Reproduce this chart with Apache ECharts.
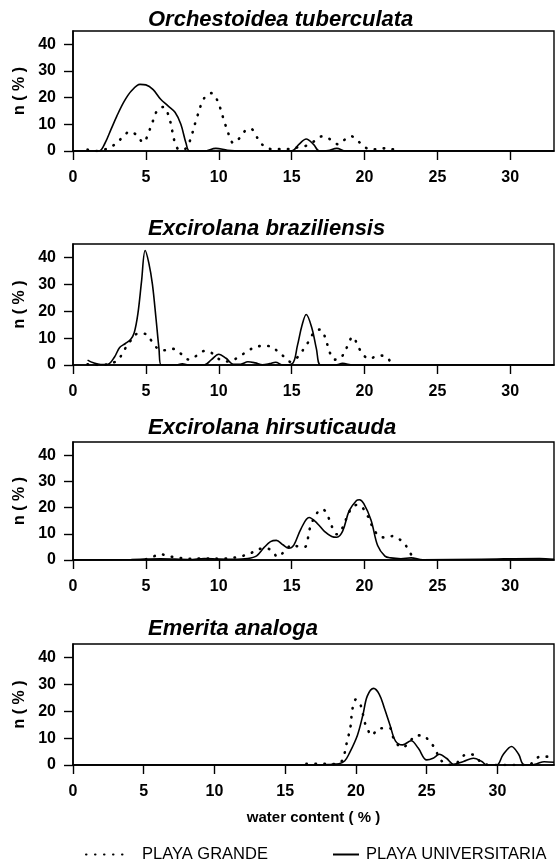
<!DOCTYPE html>
<html><head><meta charset="utf-8">
<script src="https://cdn.jsdelivr.net/npm/echarts@6.0.0/dist/echarts.min.js"></script>
<style>html,body{margin:0;padding:0;background:#fff}#c{width:559px;height:860px}</style>
</head><body><div id="c"></div>
<script>
// ---- data ----
const titles = ['Orchestoidea tuberculata', 'Excirolana braziliensis', 'Excirolana hirsuticauda', 'Emerita analoga'];
const seriesNames = ['PLAYA GRANDE', 'PLAYA UNIVERSITARIA'];
const xTicks = [0, 5, 10, 15, 20, 25, 30];
const yTicks = [0, 10, 20, 30, 40];
const xMax = [33, 33, 33, 34];
const yMax = 45;

// Orchestoidea tuberculata
const orchGrandeX = [1.0, 1.5, 2.0, 2.5, 3.0, 3.5, 3.9, 4.4, 4.8, 5.3, 5.8, 6.2, 6.6, 7.0, 7.3, 7.7, 8.0, 8.5, 9.0, 9.5, 9.9, 10.3, 10.7, 11.0, 11.4, 11.9, 12.2, 12.7, 13.1, 13.5, 14.0, 14.5, 15.0, 15.5, 16.0, 16.5, 17.1, 17.6, 18.2, 18.7, 19.1, 19.6, 20.0, 20.5, 21.2, 21.8, 22.3];
const orchGrandeY = [0.5, 0, 0.3, 1.3, 3, 5.8, 7.3, 5.8, 3.2, 8.5, 15.5, 16.5, 12.5, 3, 0.5, 0.8, 3.5, 12.5, 19.8, 21.7, 19, 12.5, 6, 3, 4.7, 8, 8.3, 4.5, 1.8, 0.8, 0.7, 0.7, 0.8, 1.5, 2, 3.5, 5.5, 4.5, 2.5, 4.5, 5.5, 3.5, 1.5, 0.5, 1, 0.8, 0];
const orchUnivX = [0, 1, 1.8, 2.2, 2.6, 3.0, 3.5, 4.0, 4.6, 5.0, 5.5, 6.0, 6.5, 7.0, 7.4, 7.75, 8.0, 9.0, 9.8, 10.6, 11.5, 15.0, 15.5, 16.0, 16.5, 16.9, 17.5, 18.1, 18.7, 20, 25, 33];
const orchUnivY = [0, 0, 0, 3, 8, 13, 18.5, 22.5, 25, 24.8, 23, 19.5, 17, 14.5, 10, 3, 0, 0, 1, 0.3, 0, 0, 2.5, 4.5, 2.5, 0, 0.2, 1, 0, 0, 0, 0];

// Excirolana braziliensis
const brazGrandeX = [1.0, 2.0, 2.7, 3.1, 3.45, 3.95, 4.5, 5.0, 5.45, 5.9, 6.4, 6.9, 7.4, 7.95, 8.4, 9.0, 9.45, 9.9, 10.5, 10.9, 11.5, 12.0, 12.5, 13.1, 13.6, 14.0, 14.5, 14.9, 15.5, 15.85, 16.2, 16.55, 16.95, 17.3, 17.6, 17.95, 18.35, 18.7, 19.2, 19.6, 20.0, 20.35, 20.7, 21.2, 21.6, 21.75];
const brazGrandeY = [0.3, 0, 0.8, 1.8, 5, 9, 11.8, 11.5, 8.5, 5.8, 5.5, 6, 4.2, 2, 3.2, 5.2, 4.7, 2.6, 1.3, 1.6, 3.5, 5.2, 6.7, 7.1, 6.9, 5.3, 3, 1.2, 3.4, 6.2, 9, 12.2, 13.2, 10.3, 4.9, 2, 2.5, 5.6, 10.5, 6.4, 3.3, 2.3, 3, 3.5, 2.6, 1.2];
const brazUnivX = [1.0, 1.4, 1.9, 2.4, 2.85, 3.2, 3.6, 3.95, 4.2, 4.45, 4.7, 4.95, 5.2, 5.45, 5.7, 5.9, 6.05, 7.0, 7.5, 8.0, 9.0, 9.5, 10.0, 10.5, 11.0, 11.5, 12.0, 12.5, 13.0, 13.5, 13.9, 14.4, 15.05, 15.4, 15.7, 16.0, 16.4, 16.7, 17.0, 18.0, 18.5, 19.2, 22, 33];
const brazUnivY = [1.8, 0.8, 0.2, 0.3, 3, 6.5, 8, 9.5, 12, 19, 31, 42.6, 38, 30, 17, 6, 0, 0, 0.4, 0, 0, 2, 4, 2.5, 0.3, 0.3, 1.2, 0.8, 0.1, 0.5, 1, 0, 0.5, 7.3, 14.5, 18.8, 13.5, 6, 0, 0, 0.6, 0, 0, 0];

// Excirolana hirsuticauda
const hirsGrandeX = [5.0, 5.5, 6.0, 6.5, 7.0, 8.0, 9.0, 10.0, 10.65, 11.4, 12.1, 12.6, 13.1, 13.6, 14.05, 14.55, 15.05, 15.4, 15.9, 16.25, 16.65, 17.1, 17.4, 17.75, 18.1, 18.5, 18.95, 19.45, 19.7, 20.2, 20.55, 21.05, 21.5, 21.9, 22.4, 22.85, 23.3];
const hirsGrandeY = [0.3, 1.3, 2.2, 1.6, 1, 0.5, 0.6, 0.5, 0.6, 1.3, 2.3, 3.8, 4.5, 3.8, 1.2, 3.6, 5.8, 5.2, 5, 12, 17.2, 19.4, 17.9, 12.9, 9.8, 12.4, 18.3, 21, 20.8, 17, 12.7, 8.9, 8.6, 9.1, 7.9, 5.4, 1];
const hirsUnivX = [0, 4, 6, 8, 9, 10, 11, 12, 12.6, 13.1, 13.55, 13.95, 14.4, 14.8, 15.15, 15.65, 16.2, 16.75, 17.25, 17.75, 18.1, 18.5, 18.95, 19.45, 19.65, 19.95, 20.45, 20.9, 21.4, 21.8, 22.5, 23.2, 24, 28, 32, 33];
const hirsUnivY = [0, 0.2, 0.5, 0.2, 0.6, 0.4, 0.3, 0.6, 1.6, 4.7, 7, 7.5, 5.8, 4.5, 5.7, 12, 16.2, 14, 10.9, 9, 8.7, 11, 18.8, 22.7, 23, 21.5, 15.2, 5.5, 1.5, 0.8, 0.5, 0.8, 0.1, 0.3, 0.6, 0.3];

// Emerita analoga
const emerGrandeX = [16.5, 17.0, 17.6, 18.2, 18.7, 19.05, 19.4, 19.6, 19.76, 20.0, 20.35, 20.6, 20.8, 21.1, 21.6, 22.0, 22.4, 22.6, 22.96, 23.3, 23.8, 24.3, 24.7, 25.2, 25.6, 25.9, 26.3, 26.9, 27.35, 27.8, 28.3, 28.65, 29.0, 29.5, 31.0, 32.2, 32.6, 33.0, 33.6, 34.0];
const emerGrandeY = [0.4, 0.4, 0.5, 0.3, 0.5, 1.9, 9.4, 13.7, 21, 24.4, 22, 16.2, 13.7, 11, 13.5, 13.7, 13.7, 10.6, 7.5, 6.5, 8.8, 11, 11, 8.8, 6, 2.5, 0.6, 0, 1.9, 4, 3.8, 1.9, 0.6, 0, 0, 0, 1.5, 3.1, 3.1, 2.5];
const emerUnivX = [0, 10, 16, 17.5, 18.3, 18.8, 19.2, 19.5, 20.1, 20.5, 20.8, 21.25, 21.65, 22.0, 22.4, 22.8, 23.3, 23.9, 24.4, 25.0, 25.45, 25.9, 26.4, 26.9, 27.6, 28.3, 28.9, 29.25, 29.95, 30.4, 31.0, 31.5, 31.85, 32.4, 32.8, 33.3, 34];
const emerUnivY = [0, 0, 0, 0, 0.3, 0.5, 1.5, 4, 11, 18.8, 25.6, 28.5, 26.3, 21.3, 15, 8.9, 7.5, 9, 6.3, 1.9, 2.5, 4, 2.5, 0.3, 1.3, 2.5, 1.3, 0, 0, 3.8, 6.9, 4, 0.2, 0, 0.5, 1.2, 1];

const panels = [
  [orchGrandeX, orchGrandeY, orchUnivX, orchUnivY],
  [brazGrandeX, brazGrandeY, brazUnivX, brazUnivY],
  [hirsGrandeX, hirsGrandeY, hirsUnivX, hirsUnivY],
  [emerGrandeX, emerGrandeY, emerUnivX, emerUnivY]
];

// ---- layout ----
const FONT = '"Liberation Sans", Arial, sans-serif';
const grids = [{top: 31, h: 120}, {top: 244, h: 121}, {top: 442, h: 118}, {top: 644, h: 121}];
const titleTops = [9, 218, 417, 618];
const zip = (xs, ys) => xs.map((x, i) => [x, ys[i]]);

const dotted = {color: '#000', width: 2.6, type: [0.5, 8.5], cap: 'round'};
const solid = {color: '#000', width: 1.6, type: 'solid'};

const series = [];
panels.forEach((p, i) => {
  series.push({name: seriesNames[0], type: 'line', xAxisIndex: i, yAxisIndex: i, data: zip(p[0], p[1]),
    smooth: 0.35, symbol: 'none', lineStyle: dotted, itemStyle: {color: '#000'}, z: 3});
  series.push({name: seriesNames[1], type: 'line', xAxisIndex: i, yAxisIndex: i, data: zip(p[2], p[3]),
    smooth: 0.35, symbol: 'none', lineStyle: solid, itemStyle: {color: '#000'}, z: 4});
});

const labelStyle = {fontFamily: FONT, fontSize: 16, fontWeight: 'bold', color: '#000'};

const option = {
  animation: false,
  backgroundColor: '#fff',
  title: titles.map((t, i) => ({
    text: t, left: 148, top: titleTops[i], padding: 0,
    textStyle: {fontFamily: FONT, fontWeight: 'bold', fontStyle: 'italic', fontSize: 22, color: '#000'}
  })),
  grid: grids.map(g => ({left: 73, right: 5, top: g.top, height: g.h, show: true,
    borderColor: '#000', borderWidth: 1.4, backgroundColor: 'transparent'})),
  xAxis: grids.map((g, i) => ({
    type: 'value', gridIndex: i, min: 0, max: xMax[i], interval: 5,
    splitLine: {show: false},
    axisLine: {onZero: false, lineStyle: {color: '#000', width: 1.6}},
    axisTick: {length: 9, customValues: xTicks, lineStyle: {color: '#000', width: 1.4}},
    axisLabel: Object.assign({customValues: xTicks, margin: 19}, labelStyle),
    name: i === 3 ? 'water content ( % )' : '',
    nameLocation: 'middle', nameGap: 45,
    nameTextStyle: {fontFamily: FONT, fontSize: 15, fontWeight: 'bold', color: '#000'}
  })),
  yAxis: grids.map((g, i) => ({
    type: 'value', gridIndex: i, min: 0, max: yMax, interval: 10,
    splitLine: {show: false},
    axisLine: {onZero: false, lineStyle: {color: '#000', width: 1.6}},
    axisTick: {length: 9, customValues: yTicks, lineStyle: {color: '#000', width: 1.4}},
    axisLabel: Object.assign({customValues: yTicks, margin: 17}, labelStyle),
    name: 'n ( % )', nameLocation: 'middle', nameRotate: 90, nameGap: 44,
    nameTextStyle: {fontFamily: FONT, fontSize: 16, fontWeight: 'bold', color: '#000'}
  })),
  legend: [
    {data: [seriesNames[0]], left: 80, top: 841, itemWidth: 43, itemHeight: 14, selectedMode: false,
      itemStyle: {opacity: 0},
      textStyle: {fontFamily: FONT, fontSize: 16.5, color: '#000', padding: [0, 0, 0, 8]}},
    {data: [seriesNames[1]], left: 327, top: 841, itemWidth: 26, itemHeight: 14, selectedMode: false,
      itemStyle: {opacity: 0},
      textStyle: {fontFamily: FONT, fontSize: 16.5, color: '#000', padding: [0, 0, 0, 2]}}
  ],
  series: series
};

const chart = echarts.init(document.getElementById('c'), null, {renderer: 'canvas'});
chart.setOption(option);
</script></body></html>
